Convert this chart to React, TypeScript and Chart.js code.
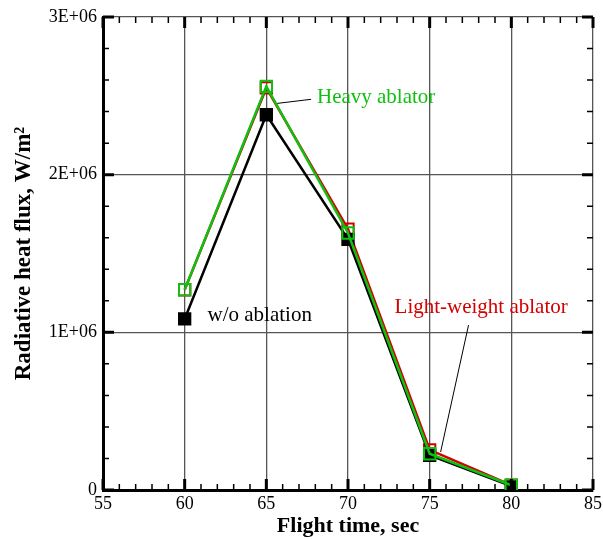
import React, { useEffect, useRef } from "react";
import { Chart, registerables } from "chart.js";

Chart.register(...registerables);

const flightTimes = [60, 65, 70, 75, 80];
const woAblation = [1.085e6, 2.38e6, 1.59e6, 0.22e6, 0.025e6];
const heavyAblator = [1.27e6, 2.56e6, 1.63e6, 0.23e6, 0.03e6];
const lightAblator = [1.27e6, 2.55e6, 1.655e6, 0.255e6, 0.03e6];

const GREEN = "#10c010";
const RED = "#d40000";
const SERIF = "'Liberation Serif', 'Times New Roman', serif";

const annotations = [
  { text: "Heavy ablator", color: GREEN, x: 68.1, y: 2.49e6, line: [65.67, 2.452e6, 67.74, 2.478e6] },
  { text: "w/o ablation", color: "#000", x: 61.4, y: 1.11e6, line: null },
  { text: "Light-weight ablator", color: RED, x: 72.85, y: 1.155e6, line: [77.38, 1.046e6, 75.67, 0.241e6] },
];

const ticksPlugin = {
  id: "inwardTicks",
  afterDatasetsDraw(chart: any) {
    const { ctx, chartArea: a, scales } = chart;
    const xs = scales.x, ys = scales.y;
    ctx.save();
    ctx.strokeStyle = "#000";
    for (let v = 55; v <= 85; v += 1) {
      const px = xs.getPixelForValue(v);
      const major = v % 5 === 0;
      ctx.lineWidth = major ? 3 : 1.5;
      const len = major ? 11 : 6;
      ctx.beginPath();
      ctx.moveTo(px, a.bottom);
      ctx.lineTo(px, a.bottom - len);
      ctx.moveTo(px, a.top);
      ctx.lineTo(px, a.top + len);
      ctx.stroke();
    }
    for (let i = 0; i <= 15; i++) {
      const v = i * 2e5;
      const py = ys.getPixelForValue(v);
      const major = i % 5 === 0;
      ctx.lineWidth = major ? 3 : 1.5;
      const len = major ? 11 : 6;
      ctx.beginPath();
      ctx.moveTo(a.left, py);
      ctx.lineTo(a.left + len, py);
      ctx.moveTo(a.right, py);
      ctx.lineTo(a.right - len, py);
      ctx.stroke();
    }
    ctx.textBaseline = "middle";
    ctx.textAlign = "left";
    ctx.font = `21px ${SERIF}`;
    for (const an of annotations) {
      ctx.fillStyle = an.color;
      ctx.fillText(an.text, xs.getPixelForValue(an.x), ys.getPixelForValue(an.y));
      if (an.line) {
        ctx.lineWidth = 1;
        ctx.strokeStyle = "#000";
        ctx.beginPath();
        ctx.moveTo(xs.getPixelForValue(an.line[0]), ys.getPixelForValue(an.line[1]));
        ctx.lineTo(xs.getPixelForValue(an.line[2]), ys.getPixelForValue(an.line[3]));
        ctx.stroke();
      }
    }
    ctx.restore();
  },
};

export default function App() {
  const ref = useRef<HTMLCanvasElement>(null);
  useEffect(() => {
    if (!ref.current) return;
    const mk = (label: string, data: number[], color: string, fill: string) => ({
      label,
      data: flightTimes.map((t, i) => ({ x: t, y: data[i] })),
      borderColor: color,
      backgroundColor: fill,
      pointBorderColor: color,
      pointBackgroundColor: fill,
      borderWidth: 2.5,
      pointStyle: "rect",
      pointRadius: 8,
      pointBorderWidth: 2,
      tension: 0,
    });
    const chart = new Chart(ref.current, {
      type: "line",
      data: {
        datasets: [
          { ...mk("Heavy ablator", heavyAblator, GREEN, "rgba(0,0,0,0)"), order: 0 },
          { ...mk("w/o ablation", woAblation, "#000", "#000"), order: 1 },
          { ...mk("Light-weight ablator", lightAblator, RED, "rgba(0,0,0,0)"), order: 2 },
        ],
      },
      options: {
        animation: false,
        responsive: false,
        events: [],
        layout: { padding: { top: 17, right: 7, left: 0, bottom: 0 } },
        plugins: { legend: { display: false }, tooltip: { enabled: false } },
        scales: {
          x: {
            type: "linear",
            min: 55,
            max: 85,
            border: { color: "#000", width: 3 },
            grid: { color: "#555", lineWidth: 1.3, drawTicks: false },
            ticks: {
              stepSize: 5,
              padding: 3,
              color: "#000",
              font: { family: SERIF, size: 18 },
            },
            title: {
              display: true,
              text: "Flight time, sec",
              color: "#000",
              font: { family: SERIF, size: 22, weight: "bold" },
              padding: { top: 2, bottom: 0 },
            },
            afterFit: (s: any) => { s.height = 50; s.paddingLeft = 0; s.paddingRight = 0; },
          },
          y: {
            type: "linear",
            min: 0,
            max: 3e6,
            border: { color: "#000", width: 3 },
            grid: { color: "#555", lineWidth: 1.3, drawTicks: false },
            ticks: {
              stepSize: 1e6,
              padding: 6,
              color: "#000",
              font: { family: SERIF, size: 18 },
              callback: (v: any) => (v === 0 ? "0" : `${v / 1e6}E+06`),
            },
            title: {
              display: true,
              text: "Radiative heat flux, W/m²",
              color: "#000",
              font: { family: SERIF, size: 23, weight: "bold" },
              padding: { top: 10, bottom: 4 },
            },
            afterFit: (s: any) => { s.width = 103; s.paddingTop = 0; s.paddingBottom = 0; },
          },
        },
      },
      plugins: [ticksPlugin],
    } as any);
    return () => chart.destroy();
  }, []);
  return (
    <div style={{ position: "fixed", left: 0, top: 0, width: 603, height: 540, background: "#fff" }}>
      <canvas ref={ref} width={603} height={540} style={{ display: "block" }} />
    </div>
  );
}
